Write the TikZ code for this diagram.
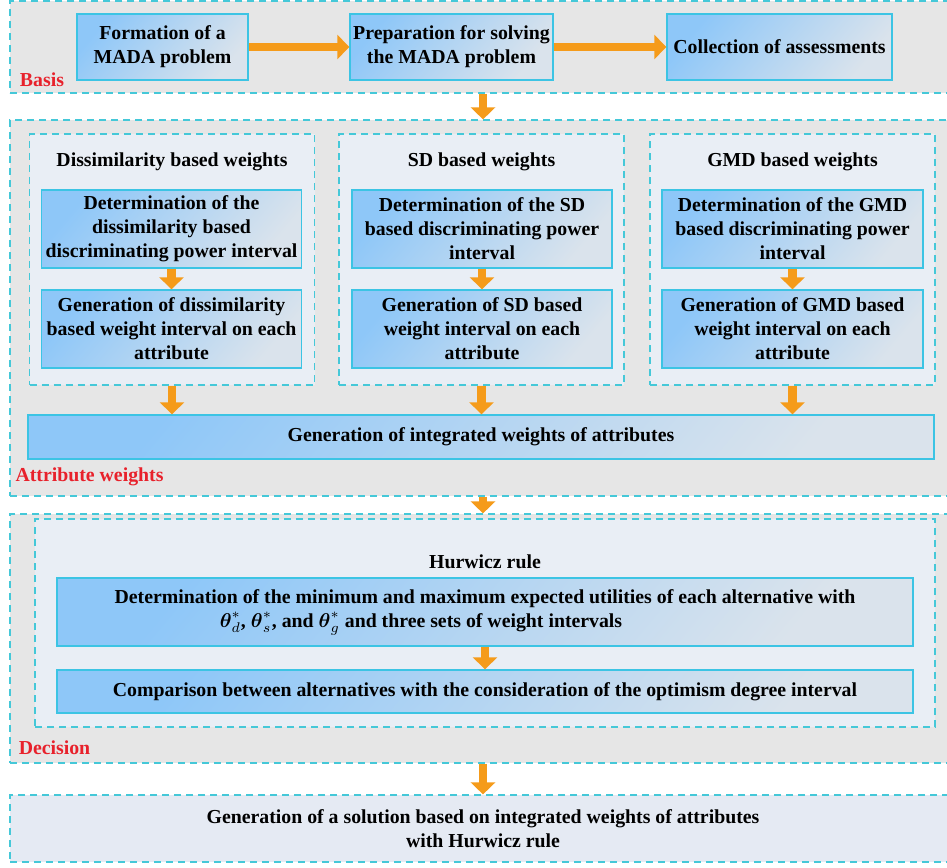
\documentclass[tikz,border=0pt]{standalone}
\usepackage{amsmath}
\usepackage{fontspec}
\setmainfont{Liberation Serif}
\usepackage{xcolor}
\usepackage{tikz}
\usetikzlibrary{arrows.meta,positioning}

\definecolor{panelgray}{HTML}{E6E6E6}
\definecolor{subblue}{HTML}{E9EEF5}
\definecolor{finalblue}{HTML}{E5EAF3}
\definecolor{dashcyan}{HTML}{45C8D8}
\definecolor{boxedge}{HTML}{3CC4E4}
\definecolor{boxblue}{HTML}{8EC7F8}
\definecolor{boxpale}{HTML}{DAE3EC}
\definecolor{floworange}{HTML}{F59B1A}
\definecolor{tagred}{HTML}{E8212B}

\begin{document}
\begin{tikzpicture}[x=0.5pt,y=-0.5pt,
		every node/.style={font=\fontsize{9.9}{12}\selectfont\bfseries},
		panel/.style={draw=dashcyan,dash pattern=on 3.5pt off 2.5pt,line width=0.6pt,fill=panelgray,inner sep=0pt},
		subpanel/.style={panel,fill=subblue},
		box/.style={draw=boxedge,line width=0.7pt,left color=boxblue,right color=boxpale,shading angle=50,align=center,inner sep=0pt},
		tag/.style={text=tagred},
		flow/.style={draw=floworange,line width=4.3pt,-{Triangle[length=6pt,width=12pt]}}]
		\useasboundingbox (0,0) rectangle (947,867);
		
		\node[panel,minimum width=473pt,minimum height=46pt] (basis) at (483,47) {};
		\node[box,minimum width=85.5pt,minimum height=33pt] (form) at (162.5,47) {Formation of a\\MADA problem};
		\node[box,minimum width=101.5pt,minimum height=33pt] (prep) at (451.5,47) {Preparation for solving\\the MADA problem};
		\node[box,minimum width=112.5pt,minimum height=33pt] (coll) at (779.5,47) {Collection of assessments};
		\node[tag] (basistag) at (42,80) {Basis};
		\draw[flow] (form) -- (prep);
		\draw[flow] (prep) -- (coll);
		
		\node[panel,minimum width=473pt,minimum height=188pt] (attr) at (483,308) {};
		\node[subpanel,minimum width=142.5pt,minimum height=125.5pt] (diss) at (172,259.5) {};
		\node[subpanel,minimum width=142.5pt,minimum height=125.5pt] (sd) at (481.5,259.5) {};
		\node[subpanel,minimum width=142.5pt,minimum height=125.5pt] (gmd) at (792.5,259.5) {};
		\node (disstitle) at (172,162) {Dissimilarity based weights};
		\node (sdtitle) at (481.5,162) {SD based weights};
		\node (gmdtitle) at (792.5,162) {GMD based weights};
		\node[box,minimum width=130pt,minimum height=39pt] (dissdet) at (171.5,229) {Determination of the\\dissimilarity based\\discriminating power interval};
		\node[box,minimum width=130pt,minimum height=39pt] (dissgen) at (171.5,329) {Generation of dissimilarity\\based weight interval on each\\attribute};
		\node[box,minimum width=130pt,minimum height=39pt] (sddet) at (482,229) {Determination of the SD\\based discriminating power\\interval};
		\node[box,minimum width=130pt,minimum height=39pt] (sdgen) at (482,329) {Generation of SD based\\weight interval on each\\attribute};
		\node[box,minimum width=130.5pt,minimum height=39pt] (gmddet) at (792.5,229) {Determination of the GMD\\based discriminating power\\interval};
		\node[box,minimum width=130.5pt,minimum height=39pt] (gmdgen) at (792.5,329) {Generation of GMD based\\weight interval on each\\attribute};
		\node[box,minimum width=453pt,minimum height=22pt] (integ) at (481,437) {Generation of integrated weights of attributes};
		\node[tag] (attrtag) at (89.5,477) {Attribute weights};
		\draw[flow] (dissdet) -- (dissgen);
		\draw[flow] (sddet) -- (sdgen);
		\draw[flow] (gmddet) -- (gmdgen);
		\draw[flow] (diss) -- (diss |- integ.north);
		\draw[flow] (sd) -- (sd |- integ.north);
		\draw[flow] (gmd) -- (gmd |- integ.north);
		\draw[flow] (basis) -- (attr);
		
		\node[panel,minimum width=473pt,minimum height=124.5pt] (dec) at (483,638.5) {};
		\node[subpanel,minimum width=450pt,minimum height=104pt] (hur) at (485,623) {};
		\node (hurtitle) at (485,562) {Hurwicz rule};
		\node[box,minimum width=428pt,minimum height=34pt] (hurdet) at (485,612) {Determination of the minimum and maximum expected utilities of each alternative with\\$\boldsymbol{\theta}_d^{*}$, $\boldsymbol{\theta}_s^{*}$, and $\boldsymbol{\theta}_g^{*}$ and three sets of weight intervals\hspace*{64pt}};
		\node[box,minimum width=428pt,minimum height=21.5pt] (hurcmp) at (485,691.5) {Comparison between alternatives with the consideration of the optimism degree interval};
		\node[tag] (dectag) at (54.5,748) {Decision};
		\draw[flow] (hurdet) -- (hurcmp);
		\draw[flow] (attr) -- (dec);
		
		\node[panel,fill=finalblue,minimum width=473pt,minimum height=33.5pt,align=center] (final) at (483,828.5) {Generation of a solution based on integrated weights of attributes\\with Hurwicz rule};
		\draw[flow] (dec) -- (final);
	\end{tikzpicture}
\end{document}
